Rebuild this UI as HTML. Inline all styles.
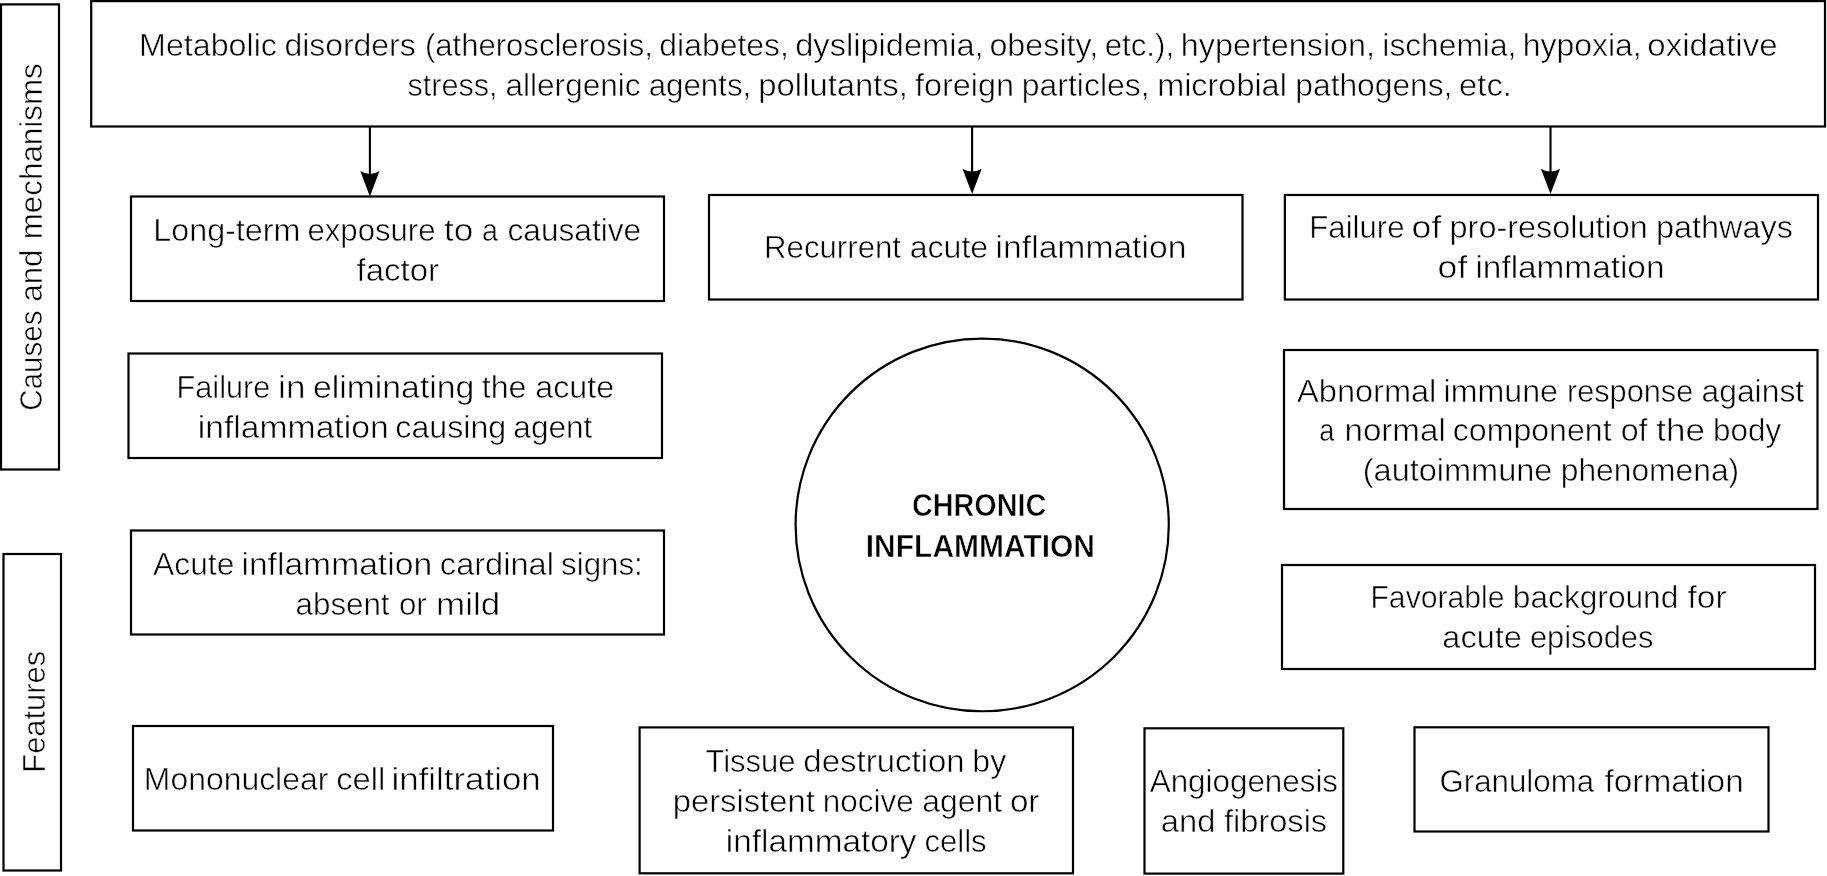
<!DOCTYPE html>
<html><head><meta charset="utf-8"><title>Chronic inflammation</title>
<style>
html,body{margin:0;padding:0;background:#fff;}
body{width:1827px;height:876px;overflow:hidden;}
svg{display:block;will-change:transform;filter:grayscale(1);}
text{font-family:"Liberation Sans",sans-serif;font-size:31.5px;fill:#000;stroke:#fff;stroke-width:0.55px;}
text.b{font-weight:bold;font-size:32px;}
.bx{fill:none;stroke:#000;stroke-width:2.2;}
</style></head><body>
<svg width="1827" height="876" viewBox="0 0 1827 876">
<rect width="1827" height="876" fill="#fff"/>
<rect class="bx" x="1" y="4.4" width="58" height="465.1"/>
<rect class="bx" x="3.5" y="554" width="57.5" height="316.5"/>
<rect class="bx" x="91.2" y="1.1" width="1733.8" height="125.4"/>
<rect class="bx" x="131" y="196.5" width="533" height="104.5"/>
<rect class="bx" x="709" y="195" width="533.5" height="104.5"/>
<rect class="bx" x="1284.85" y="195" width="533.15" height="104.5"/>
<rect class="bx" x="128.5" y="353.5" width="533.5" height="104.5"/>
<rect class="bx" x="1284" y="350" width="533.5" height="159"/>
<rect class="bx" x="131" y="530.5" width="533" height="104.0"/>
<rect class="bx" x="1282" y="565" width="533" height="104"/>
<rect class="bx" x="133" y="726.0" width="420" height="104.5"/>
<rect class="bx" x="639.6" y="727.4" width="433.4" height="145.9"/>
<rect class="bx" x="1144.5" y="728.3" width="198.8" height="145.3"/>
<rect class="bx" x="1414.5" y="727.3" width="354.0" height="104.2"/>
<ellipse class="bx" cx="982.2" cy="524.9" rx="186.6" ry="186.35"/>
<line x1="369.9" y1="126.5" x2="369.9" y2="176.5" stroke="#000" stroke-width="2.1"/>
<path d="M360.29999999999995,171.1 Q369.9,176.9 379.5,171.1 L369.9,196.5 Z" fill="#000"/>
<line x1="972.1" y1="126.5" x2="972.1" y2="174.1" stroke="#000" stroke-width="2.1"/>
<path d="M962.5,168.7 Q972.1,174.5 981.7,168.7 L972.1,194.1 Z" fill="#000"/>
<line x1="1550.5" y1="126.5" x2="1550.5" y2="174.1" stroke="#000" stroke-width="2.1"/>
<path d="M1540.9,168.7 Q1550.5,174.5 1560.1,168.7 L1550.5,194.1 Z" fill="#000"/>
<text x="139.13" y="55.75" textLength="137.76" lengthAdjust="spacingAndGlyphs">Metabolic</text>
<text x="284.45" y="55.75" textLength="131.28" lengthAdjust="spacingAndGlyphs">disorders</text>
<text x="424.9" y="55.75" textLength="228.0" lengthAdjust="spacingAndGlyphs">(atherosclerosis,</text>
<text x="659.35" y="55.75" textLength="129.6" lengthAdjust="spacingAndGlyphs">diabetes,</text>
<text x="795.23" y="55.75" textLength="188.37" lengthAdjust="spacingAndGlyphs">dyslipidemia,</text>
<text x="989.43" y="55.75" textLength="108.82" lengthAdjust="spacingAndGlyphs">obesity,</text>
<text x="1104.66" y="55.75" textLength="69.43" lengthAdjust="spacingAndGlyphs">etc.),</text>
<text x="1180.87" y="55.75" textLength="194.19" lengthAdjust="spacingAndGlyphs">hypertension,</text>
<text x="1382.35" y="55.75" textLength="134.02" lengthAdjust="spacingAndGlyphs">ischemia,</text>
<text x="1522.73" y="55.75" textLength="119.0" lengthAdjust="spacingAndGlyphs">hypoxia,</text>
<text x="1647.35" y="55.75" textLength="130.2" lengthAdjust="spacingAndGlyphs">oxidative</text>
<text x="407.47" y="95.75" textLength="90.16" lengthAdjust="spacingAndGlyphs">stress,</text>
<text x="505.43" y="95.75" textLength="135.26" lengthAdjust="spacingAndGlyphs">allergenic</text>
<text x="648.67" y="95.75" textLength="102.63" lengthAdjust="spacingAndGlyphs">agents,</text>
<text x="758.38" y="95.75" textLength="149.48" lengthAdjust="spacingAndGlyphs">pollutants,</text>
<text x="915.09" y="95.75" textLength="99.02" lengthAdjust="spacingAndGlyphs">foreign</text>
<text x="1021.88" y="95.75" textLength="127.69" lengthAdjust="spacingAndGlyphs">particles,</text>
<text x="1157.16" y="95.75" textLength="129.7" lengthAdjust="spacingAndGlyphs">microbial</text>
<text x="1295.34" y="95.75" textLength="157.1" lengthAdjust="spacingAndGlyphs">pathogens,</text>
<text x="1459.14" y="95.75" textLength="52.83" lengthAdjust="spacingAndGlyphs">etc.</text>
<text x="153.32" y="240.75" textLength="147.09" lengthAdjust="spacingAndGlyphs">Long-term</text>
<text x="307.51" y="240.75" textLength="128.02" lengthAdjust="spacingAndGlyphs">exposure</text>
<text x="444.09" y="240.75" textLength="29.39" lengthAdjust="spacingAndGlyphs">to</text>
<text x="481.9" y="240.75" textLength="16.01" lengthAdjust="spacingAndGlyphs">a</text>
<text x="507.55" y="240.75" textLength="133.65" lengthAdjust="spacingAndGlyphs">causative</text>
<text x="356.51" y="280.75" textLength="82.49" lengthAdjust="spacingAndGlyphs">factor</text>
<text x="764.05" y="258.25" textLength="136.97" lengthAdjust="spacingAndGlyphs">Recurrent</text>
<text x="909.72" y="258.25" textLength="78.45" lengthAdjust="spacingAndGlyphs">acute</text>
<text x="995.62" y="258.25" textLength="190.78" lengthAdjust="spacingAndGlyphs">inflammation</text>
<text x="1309.24" y="238.25" textLength="95.37" lengthAdjust="spacingAndGlyphs">Failure</text>
<text x="1411.63" y="238.25" textLength="29.64" lengthAdjust="spacingAndGlyphs">of</text>
<text x="1449.6" y="238.25" textLength="198.24" lengthAdjust="spacingAndGlyphs">pro-resolution</text>
<text x="1655.95" y="238.25" textLength="136.91" lengthAdjust="spacingAndGlyphs">pathways</text>
<text x="1437.63" y="278" textLength="29.64" lengthAdjust="spacingAndGlyphs">of</text>
<text x="1475.46" y="278" textLength="188.97" lengthAdjust="spacingAndGlyphs">inflammation</text>
<text x="176.59" y="397.5" textLength="93.64" lengthAdjust="spacingAndGlyphs">Failure</text>
<text x="278.13" y="397.5" textLength="27.3" lengthAdjust="spacingAndGlyphs">in</text>
<text x="313.03" y="397.5" textLength="161.28" lengthAdjust="spacingAndGlyphs">eliminating</text>
<text x="481.73" y="397.5" textLength="44.82" lengthAdjust="spacingAndGlyphs">the</text>
<text x="535.33" y="397.5" textLength="78.82" lengthAdjust="spacingAndGlyphs">acute</text>
<text x="197.83" y="437.5" textLength="190.78" lengthAdjust="spacingAndGlyphs">inflammation</text>
<text x="395.33" y="437.5" textLength="110.92" lengthAdjust="spacingAndGlyphs">causing</text>
<text x="513.36" y="437.5" textLength="79.01" lengthAdjust="spacingAndGlyphs">agent</text>
<text x="1297.13" y="401.75" textLength="139.21" lengthAdjust="spacingAndGlyphs">Abnormal</text>
<text x="1443.54" y="401.75" textLength="114.38" lengthAdjust="spacingAndGlyphs">immune</text>
<text x="1566.97" y="401.75" textLength="126.29" lengthAdjust="spacingAndGlyphs">response</text>
<text x="1701.47" y="401.75" textLength="102.71" lengthAdjust="spacingAndGlyphs">against</text>
<text x="1319.2" y="441.25" textLength="15.11" lengthAdjust="spacingAndGlyphs">a</text>
<text x="1344.44" y="441.25" textLength="101.36" lengthAdjust="spacingAndGlyphs">normal</text>
<text x="1452.84" y="441.25" textLength="158.72" lengthAdjust="spacingAndGlyphs">component</text>
<text x="1620.65" y="441.25" textLength="26.85" lengthAdjust="spacingAndGlyphs">of</text>
<text x="1656.37" y="441.25" textLength="48.62" lengthAdjust="spacingAndGlyphs">the</text>
<text x="1713.1" y="441.25" textLength="67.97" lengthAdjust="spacingAndGlyphs">body</text>
<text x="1362.79" y="481.25" textLength="189.56" lengthAdjust="spacingAndGlyphs">(autoimmune</text>
<text x="1560.71" y="481.25" textLength="178.45" lengthAdjust="spacingAndGlyphs">phenomena)</text>
<text x="153.02" y="574.5" textLength="81.34" lengthAdjust="spacingAndGlyphs">Acute</text>
<text x="241.43" y="574.5" textLength="190.67" lengthAdjust="spacingAndGlyphs">inflammation</text>
<text x="439.87" y="574.5" textLength="114.04" lengthAdjust="spacingAndGlyphs">cardinal</text>
<text x="561.09" y="574.5" textLength="81.71" lengthAdjust="spacingAndGlyphs">signs:</text>
<text x="295.58" y="614.5" textLength="93.98" lengthAdjust="spacingAndGlyphs">absent</text>
<text x="398.96" y="614.5" textLength="27.79" lengthAdjust="spacingAndGlyphs">or</text>
<text x="436.09" y="614.5" textLength="64.12" lengthAdjust="spacingAndGlyphs">mild</text>
<text x="1370.48" y="608" textLength="133.97" lengthAdjust="spacingAndGlyphs">Favorable</text>
<text x="1512.86" y="608" textLength="165.47" lengthAdjust="spacingAndGlyphs">background</text>
<text x="1687.46" y="608" textLength="39.09" lengthAdjust="spacingAndGlyphs">for</text>
<text x="1442.36" y="648" textLength="79.49" lengthAdjust="spacingAndGlyphs">acute</text>
<text x="1529.92" y="648" textLength="123.49" lengthAdjust="spacingAndGlyphs">episodes</text>
<text x="143.89" y="790.25" textLength="184.43" lengthAdjust="spacingAndGlyphs">Mononuclear</text>
<text x="336.16" y="790.25" textLength="49.05" lengthAdjust="spacingAndGlyphs">cell</text>
<text x="391.41" y="790.25" textLength="149.39" lengthAdjust="spacingAndGlyphs">infiltration</text>
<text x="705.43" y="771.5" textLength="90.18" lengthAdjust="spacingAndGlyphs">Tissue</text>
<text x="803.38" y="771.5" textLength="161.32" lengthAdjust="spacingAndGlyphs">destruction</text>
<text x="972.39" y="771.5" textLength="33.88" lengthAdjust="spacingAndGlyphs">by</text>
<text x="672.76" y="811.5" textLength="142.02" lengthAdjust="spacingAndGlyphs">persistent</text>
<text x="822.83" y="811.5" textLength="90.89" lengthAdjust="spacingAndGlyphs">nocive</text>
<text x="922.15" y="811.5" textLength="80.07" lengthAdjust="spacingAndGlyphs">agent</text>
<text x="1009.9" y="811.5" textLength="29.55" lengthAdjust="spacingAndGlyphs">or</text>
<text x="725.8" y="852" textLength="190.74" lengthAdjust="spacingAndGlyphs">inflammatory</text>
<text x="924.46" y="852" textLength="62.2" lengthAdjust="spacingAndGlyphs">cells</text>
<text x="1149.77" y="792" textLength="188.27" lengthAdjust="spacingAndGlyphs">Angiogenesis</text>
<text x="1160.87" y="832" textLength="54.49" lengthAdjust="spacingAndGlyphs">and</text>
<text x="1224.0" y="832" textLength="103.15" lengthAdjust="spacingAndGlyphs">fibrosis</text>
<text x="1439.43" y="792" textLength="154.66" lengthAdjust="spacingAndGlyphs">Granuloma</text>
<text x="1604.45" y="792" textLength="139.34" lengthAdjust="spacingAndGlyphs">formation</text>
<text class="b" x="911.91" y="516.25" textLength="134.3" lengthAdjust="spacingAndGlyphs">CHRONIC</text>
<text class="b" x="865.77" y="557" textLength="229.26" lengthAdjust="spacingAndGlyphs">INFLAMMATION</text>
<text transform="translate(42.2,410.65) rotate(-90)" x="0" y="0" textLength="100.09" lengthAdjust="spacingAndGlyphs">Causes</text>
<text transform="translate(42.2,301.69) rotate(-90)" x="0" y="0" textLength="52.05" lengthAdjust="spacingAndGlyphs">and</text>
<text transform="translate(42.2,239.28) rotate(-90)" x="0" y="0" textLength="176.06" lengthAdjust="spacingAndGlyphs">mechanisms</text>
<text transform="translate(44.5,772.68) rotate(-90)" x="0" y="0" textLength="121.84" lengthAdjust="spacingAndGlyphs">Features</text>
</svg></body></html>
